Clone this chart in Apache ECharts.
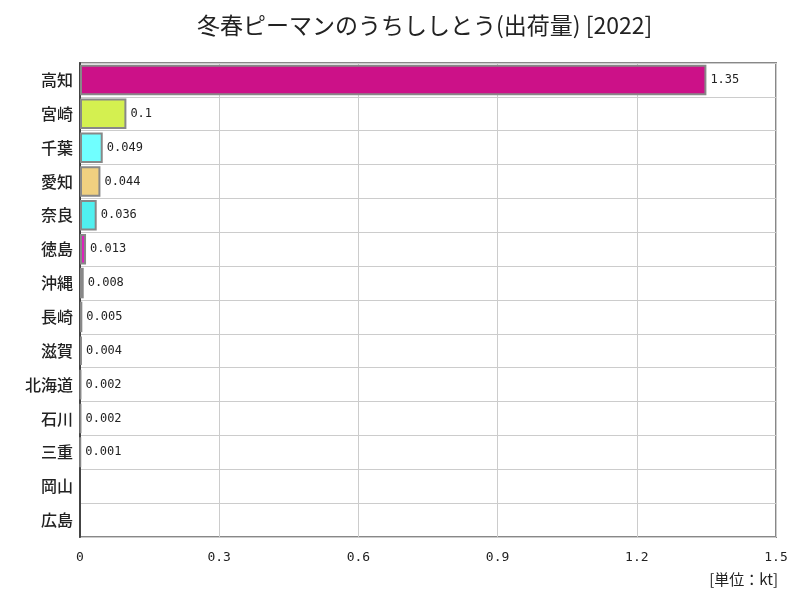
<!DOCTYPE html>
<html><head><meta charset="utf-8">
<script src="https://cdn.jsdelivr.net/npm/echarts@6/dist/echarts.min.js"></script>
<style>html,body{margin:0;padding:0;background:#fff}#c{width:800px;height:600px}</style>
</head><body><div id="c"></div>
<script>
const categories = ['高知','宮崎','千葉','愛知','奈良','徳島','沖縄','長崎','滋賀','北海道','石川','三重','岡山','広島'];
const values = [1.35,0.1,0.049,0.044,0.036,0.013,0.008,0.005,0.004,0.002,0.002,0.001,null,null];
const labels = ['1.35','0.1','0.049','0.044','0.036','0.013','0.008','0.005','0.004','0.002','0.002','0.001','',''];
const colors = ['#cc1188','#d4f050','#70ffff','#f0d080','#50f0f0','#dd22bb','#aa3399','#999999','#999999','#999999','#999999','#999999','#999999','#999999'];
const xTicks = [0,0.3,0.6,0.9,1.2,1.5];

const chart = echarts.init(document.getElementById('c'));
const font = '"Noto Sans CJK JP", sans-serif';
chart.setOption({
  animation:false,
  title:{text:'冬春ピーマンのうちししとう(出荷量) [2022]',left:192,top:9,
    textStyle:{fontFamily:font,fontSize:23,fontWeight:'normal',color:'#222'}},
  grid:{left:80,right:24,top:63,bottom:63,show:true,borderColor:'#888',borderWidth:2},
  xAxis:{type:'value',min:0,max:1.5,interval:0.3,
    axisLine:{show:false},axisTick:{show:false},
    splitLine:{lineStyle:{color:'#ccc',width:1}},
    axisLabel:{fontFamily:'"DejaVu Sans Mono", monospace',fontSize:13,color:'#222',margin:14,
      formatter:v=>{const s=xTicks.find(t=>Math.abs(t-v)<1e-9);return s===undefined?'':String(s);}}},
  yAxis:{type:'category',data:categories,inverse:true,
    axisLine:{lineStyle:{color:'#444',width:2}},axisTick:{show:false},
    splitLine:{show:true,lineStyle:{color:'#ccc',width:1}},
    axisLabel:{fontFamily:font,fontSize:16,fontWeight:500,color:'#222',margin:7}},
  graphic:[{type:'text',right:22,bottom:13,style:{text:'[単位：kt]',font:'15px "Noto Sans CJK JP"',fill:'#222'}}],
  series:[{type:'bar',barCategoryGap:'10%',
    data:values.map((v,i)=>({value:v,itemStyle:{color:colors[i]}})),
    itemStyle:{borderColor:'#888',borderWidth:2},
    label:{show:true,position:'right',distance:4,fontFamily:'"DejaVu Sans Mono", monospace',fontSize:12,color:'#222',
      formatter:p=>labels[p.dataIndex]}}]
});
</script></body></html>
